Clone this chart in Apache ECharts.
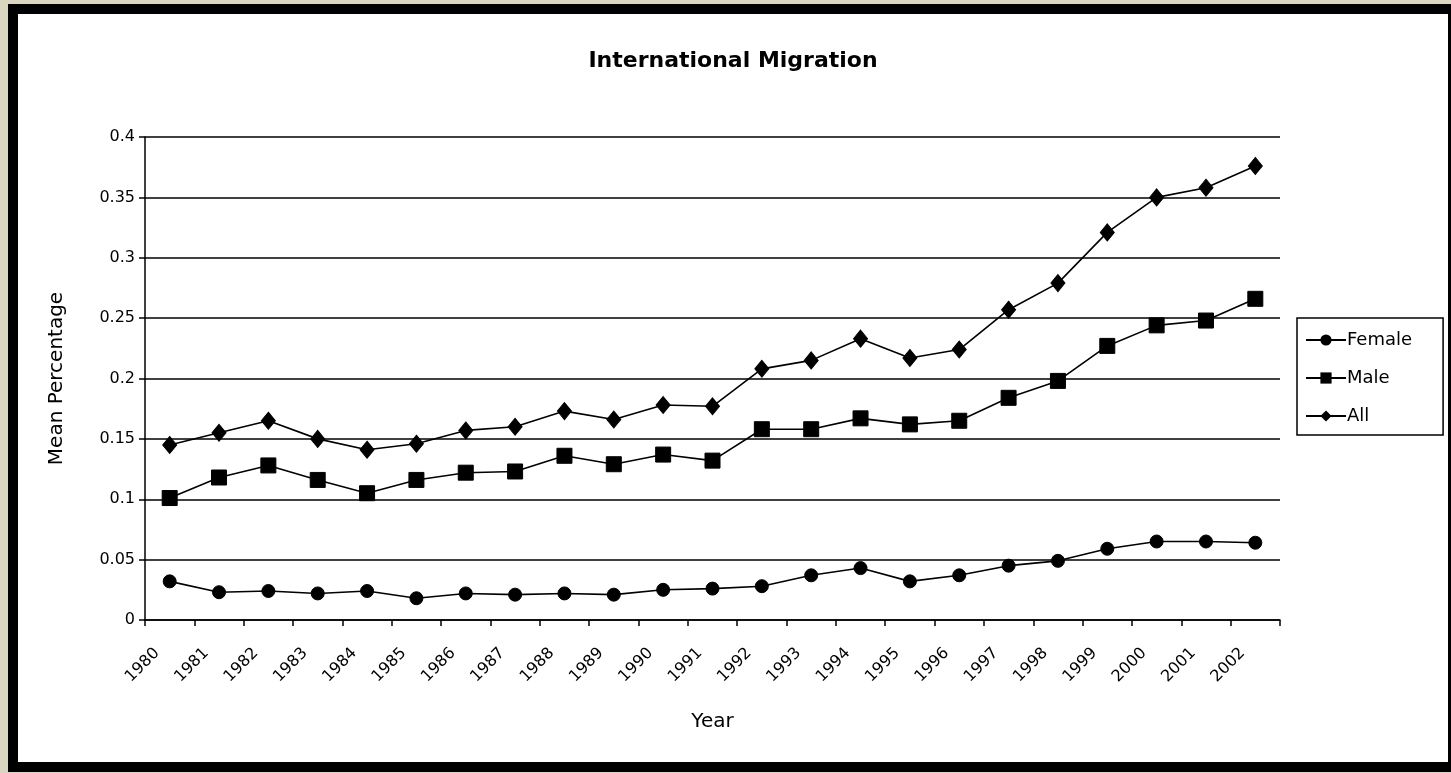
<!DOCTYPE html>
<html>
<head>
<meta charset="utf-8">
<script src="https://cdn.jsdelivr.net/npm/echarts@6/dist/echarts.min.js"></script>
<style>
  html, body { margin: 0; padding: 0; background: #d9d5c0; width: 1451px; height: 773px; overflow: hidden; }
  .frame {
    position: absolute; left: 8px; top: 4px;
    width: 1430px; height: 748px;
    border: 10px solid #000; background: #fff;
  }
  #chart { width: 1430px; height: 748px; }
</style>
</head>
<body>
<div class="frame"><div id="chart"></div></div>
<script>
// years on the x axis
const years = ['1980', '1981', '1982', '1983', '1984', '1985', '1986', '1987', '1988', '1989',
  '1990', '1991', '1992', '1993', '1994', '1995', '1996', '1997', '1998', '1999',
  '2000', '2001', '2002']

// mean percentage
const female = [0.032, 0.023, 0.024, 0.022, 0.024, 0.018, 0.022, 0.021, 0.022, 0.021,
  0.025, 0.026, 0.028, 0.037, 0.043, 0.032, 0.037, 0.045, 0.049, 0.059,
  0.065, 0.065, 0.064]
const male = [0.101, 0.118, 0.128, 0.116, 0.105, 0.116, 0.122, 0.123, 0.136, 0.129,
  0.137, 0.132, 0.158, 0.158, 0.167, 0.162, 0.165, 0.184, 0.198, 0.227,
  0.244, 0.248, 0.266]
const all = [0.145, 0.155, 0.165, 0.150, 0.141, 0.146, 0.157, 0.160, 0.173, 0.166,
  0.178, 0.177, 0.208, 0.215, 0.233, 0.217, 0.224, 0.257, 0.279, 0.321,
  0.350, 0.358, 0.376]

const font = 'DejaVu Sans, Verdana, sans-serif'

const chart = echarts.init(document.getElementById('chart'))

const lineSeries = (name, data, symbol, size) => ({
  name: name,
  type: 'line',
  data: data,
  symbol: symbol,
  symbolSize: size,
  showAllSymbol: true,
  animation: false,
  lineStyle: { color: '#000', width: 1.6 },
  itemStyle: { color: '#000', borderColor: '#000' }
})

chart.setOption({
  backgroundColor: '#fff',
  animation: false,
  title: {
    text: 'International Migration',
    left: 'center',
    top: 31,
    textStyle: { fontFamily: font, fontSize: 22, fontWeight: 'bold', color: '#000' }
  },
  legend: {
    orient: 'vertical',
    left: 1279,
    top: 304,
    padding: [13, 31, 10, 8],
    itemGap: 20,
    itemWidth: 40,
    itemHeight: 14,
    borderColor: '#000',
    borderWidth: 1.5,
    textStyle: { fontFamily: font, fontSize: 18, color: '#000', padding: [0, 0, 0, -4] },
    data: ['Female', 'Male', 'All']
  },
  grid: {
    left: 127,
    right: 168,
    top: 123,
    bottom: 142
  },
  xAxis: {
    type: 'category',
    data: years,
    name: 'Year',
    nameLocation: 'middle',
    nameGap: 92,
    nameTextStyle: { fontFamily: font, fontSize: 20, color: '#000' },
    axisLine: { lineStyle: { color: '#000', width: 1.5 } },
    axisTick: { show: true, length: 6, lineStyle: { color: '#000', width: 1.5 } },
    axisLabel: {
      interval: 0,
      rotate: 45,
      margin: 18,
      padding: [0, 18, 0, 0],
      fontFamily: font,
      fontSize: 16,
      color: '#000'
    }
  },
  yAxis: {
    type: 'value',
    min: 0,
    max: 0.4,
    interval: 0.05,
    name: 'Mean Percentage',
    nameLocation: 'middle',
    nameGap: 78,
    nameTextStyle: { fontFamily: font, fontSize: 20, color: '#000' },
    axisLine: { show: true, lineStyle: { color: '#000', width: 1.5 } },
    axisTick: { show: true, length: 6, lineStyle: { color: '#000', width: 1.5 } },
    axisLabel: { fontFamily: font, fontSize: 16, color: '#000', margin: 10 },
    splitLine: { lineStyle: { color: '#000', width: 1.5 } }
  },
  series: [
    lineSeries('Female', female, 'circle', 13),
    lineSeries('Male', male, 'rect', 15),
    lineSeries('All', all, 'diamond', [14, 17])
  ]
})
</script>
</body>
</html>
